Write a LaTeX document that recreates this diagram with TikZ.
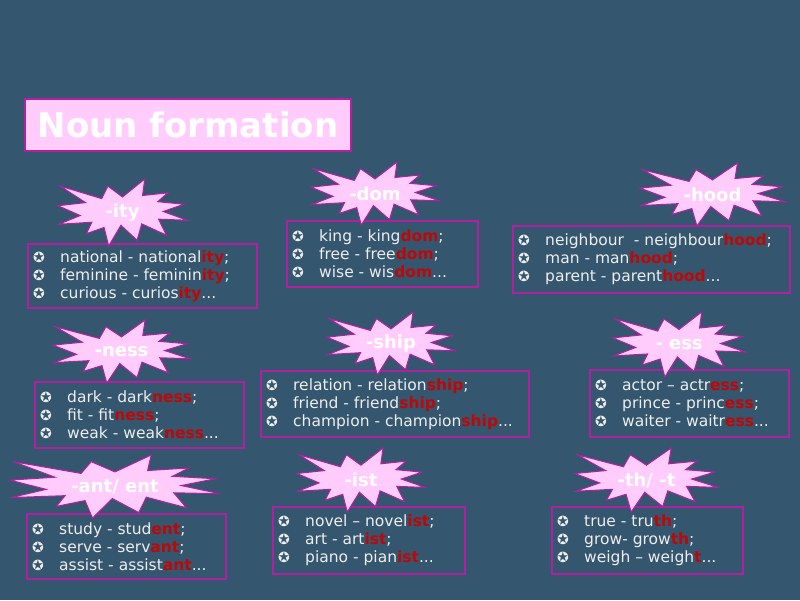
\documentclass[tikz,border=0pt]{standalone}
\usepackage{fontspec}
\setmainfont{DejaVu Sans}
\definecolor{bg}{RGB}{52,86,110}
\definecolor{pinkfill}{RGB}{255,204,252}
\definecolor{frame}{RGB}{176,32,160}
\definecolor{sfx}{RGB}{190,8,8}
\definecolor{txt}{RGB}{238,238,238}
\newcommand{\sx}[1]{\textcolor{sfx}{\textbf{#1}}}
\newcommand{\bul}{\makebox[27pt][l]{\fontsize{14}{14}\selectfont ✪}}
\tikzset{
  listbox/.style={draw=frame, line width=2pt, anchor=north west, inner sep=0pt},
  listtext/.style={anchor=west, inner xsep=6pt, inner ysep=0pt, align=left, text=txt,
    font=\fontsize{15.5}{18}\selectfont},
  burstshape/.style={fill=pinkfill, draw=frame, line width=1pt, line join=miter},
  burstlabel/.style={text=white, font=\fontsize{18}{18}\selectfont\bfseries, inner sep=0pt},
  titlebox/.style={draw=frame, line width=2pt, fill=pinkfill, anchor=north west, text=white,
    font=\fontsize{34}{34}\selectfont\bfseries, inner sep=0pt}
}
% name, x0, y0, w, h, text
\newcommand{\explosion}[6]{%
  \draw[burstshape, shift={(#2,#3)}, xscale=#4/216, yscale=#5/216]
    (108,58) -- (145.22,0) -- (141.55,53.25) -- (183.80,44.57) -- (167.02,73.15)
    -- (210.97,81.37) -- (176.07,104.75) -- (216,132.90) -- (168.37,129.42)
    -- (181.45,180.95) -- (140.20,144.57) -- (132.47,197.37) -- (105.32,149.35)
    -- (84.85,216) -- (77.15,156.27) -- (47.62,176.17) -- (56.67,139.37)
    -- (1.35,145.87) -- (37.22,117.75) -- (0,86.15) -- (46.27,76.17)
    -- (3.70,22.95) -- (73.12,63.20) -- (83.52,22.95) -- cycle;
  \node[burstlabel] (#1) at ({#2+#4/2},{#3+#5/2}) {#6};
}
% name, x, y, w, h, content
\newcommand{\listbox}[6]{%
  \node[listbox, minimum width=#4pt, minimum height=#5pt] (#1) at (#2,#3) {};
  \node[listtext] (#1t) at (#1.west) {#6};
}
\begin{document}
\begin{tikzpicture}[x=1pt,y=-1pt]
\fill[bg] (0,0) rectangle (800,600);
\useasboundingbox (0,0) rectangle (800,600);
\node[titlebox, minimum width=326pt, minimum height=52pt] (title) at (24,98) {Noun formation};
% boxes
\listbox{bity}{27}{243}{229}{64}
  {\bul national - national\sx{ity};\\\bul feminine - feminin\sx{ity};\\\bul curious - curios\sx{ity}...}
\listbox{bdom}{286}{220}{191}{66}
  {\bul king - king\sx{dom};\\\bul free - free\sx{dom};\\\bul wise - wis\sx{dom}...}
\listbox{bhood}{512}{225}{277}{67}
  {\bul neighbour\ \ - neighbour\sx{hood};\\\bul man - man\sx{hood};\\\bul parent - parent\sx{hood}...}
\listbox{bness}{34}{381}{209}{66}
  {\bul dark - dark\sx{ness};\\\bul fit - fit\sx{ness};\\\bul weak - weak\sx{ness}...}
\listbox{bship}{260}{370}{268}{66}
  {\bul relation - relation\sx{ship};\\\bul friend - friend\sx{ship};\\\bul champion - champion\sx{ship}...}
\listbox{bess}{589}{369}{199}{67}
  {\bul actor -- actr\sx{ess};\\\bul prince - princ\sx{ess};\\\bul waiter - waitr\sx{ess}...}
\listbox{bant}{26}{513}{199}{65}
  {\bul study - stud\sx{ent};\\\bul serve - serv\sx{ant};\\\bul assist - assist\sx{ant}...}
\listbox{bist}{272}{506}{192}{67}
  {\bul novel -- novel\sx{ist};\\\bul art - art\sx{ist};\\\bul piano - pian\sx{ist}...}
\listbox{bth}{551}{506}{191}{67}
  {\bul true - tru\sx{th};\\\bul grow- grow\sx{th};\\\bul weigh -- weigh\sx{t}...}
% bursts
\explosion{sity}{58}{179}{129}{67}{-ity}
\explosion{sdom}{311}{162}{128}{63}{-dom}
\explosion{shood}{640}{163}{145}{63}{-hood}
\explosion{sness}{53}{320}{137}{63}{-ness}
\explosion{sship}{327}{312}{128}{63}{-ship}
\explosion{sess}{613}{312}{132}{65}{- ess}
\explosion{sant}{10}{455}{210}{63}{-ant/ ent}
\explosion{sist}{297}{448}{128}{64}{-ist}
\explosion{sth}{575}{448}{143}{64}{-th/ -t}
\end{tikzpicture}
\end{document}
